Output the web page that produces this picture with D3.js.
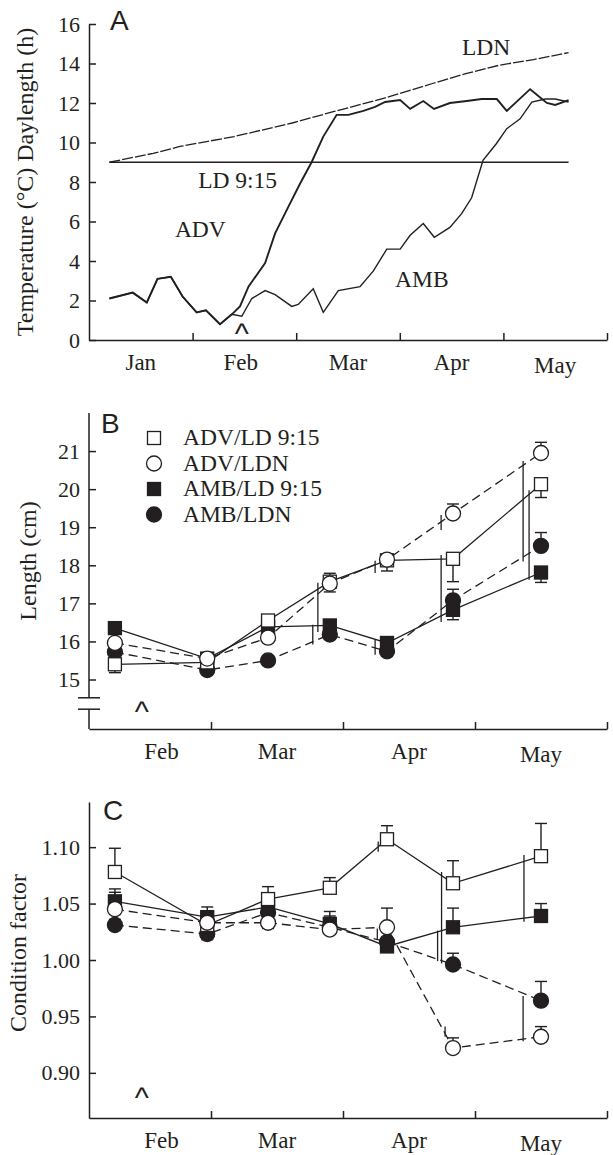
<!DOCTYPE html>
<html>
<head>
<meta charset="utf-8">
<script src="https://cdn.jsdelivr.net/npm/d3@7"></script>
<style>
  body { margin: 0; background: #fff; }
  text { font-family: "Liberation Serif", "Times New Roman", serif; fill: #231f20; }
</style>
</head>
<body>
<script>
// ---- data: panel A (day of year, value)
const advDays = [6.1, 13.1, 17.3, 20.5, 24.5, 28.0, 32.1, 34.6, 38.4, 41.6, 43.8, 46.1, 50.6, 53.3, 56.9, 60.1, 63.6, 67.1, 71.1, 74.6, 79.1, 82.6, 85.6, 90.1, 93.0, 96.8, 99.9, 104.5, 109.4, 113.7, 118.1, 121.0, 128.0, 133.0, 135.5, 139.5];
const advTemp = [2.1, 2.4, 1.9, 3.1, 3.2, 2.2, 1.4, 1.5, 0.8, 1.3, 1.7, 2.7, 3.9, 5.4, 6.75, 7.9, 9.0, 10.3, 11.4, 11.4, 11.6, 11.8, 12.05, 12.15, 11.7, 12.1, 11.7, 12.0, 12.1, 12.2, 12.2, 11.6, 12.7, 12.0, 11.9, 12.15];
const ambDays = [6.1, 13.1, 17.3, 20.5, 24.5, 28.0, 32.1, 34.6, 38.4, 41.6, 44.3, 47.0, 50.6, 53.3, 57.8, 59.6, 64.1, 67.1, 71.6, 78.1, 82.1, 86.1, 90.1, 93.0, 96.8, 100.0, 104.5, 107.9, 110.8, 114.1, 118.0, 121.0, 125.0, 128.5, 132.5, 135.5, 139.5];
const ambTemp = [2.1, 2.4, 1.9, 3.1, 3.2, 2.2, 1.4, 1.5, 0.8, 1.3, 1.2, 2.1, 2.5, 2.3, 1.7, 1.8, 2.6, 1.4, 2.5, 2.7, 3.5, 4.6, 4.6, 5.3, 5.9, 5.2, 5.7, 6.4, 7.2, 9.1, 9.95, 10.7, 11.2, 12.05, 12.2, 12.2, 12.05];
const ldnDays = [6.1, 19.2, 27.2, 42.2, 58.2, 70.1, 85.1, 90.1, 99.7, 109.4, 119.0, 129.0, 139.5];
const ldnHours = [9.0, 9.45, 9.8, 10.3, 11.0, 11.56, 12.23, 12.49, 13.0, 13.5, 13.92, 14.2, 14.55];
const ld915Days = [6.1, 139.5];
const ld915Hours = [9, 9];
const labelTextA = ["LDN", "LD 9:15", "ADV", "AMB"];
const labelDayA = [108.0, 32.5, 25.7, 88.6];
const labelValA = [14.43, 7.71, 5.22, 2.68];

// ---- data: panels B and C (sampling days)
const sampleDays = [38.6, 58.2, 72.4, 86.9, 100, 115, 135.5];
const groups = ["ADV/LD 9:15", "ADV/LDN", "AMB/LD 9:15", "AMB/LDN"];

const lengthAdvLD  = [15.40, 15.45, 16.55, 17.57, 18.13, 18.17, 20.13];
const lengthAdvLDN = [15.96, 15.55, 16.10, 17.52, 18.15, 19.36, 20.95];
const lengthAmbLD  = [16.35, 15.55, 16.38, 16.42, 15.96, 16.83, 17.81];
const lengthAmbLDN = [15.72, 15.25, 15.50, 16.18, 15.74, 17.08, 18.51];
const lengthErrAdvLD  = [-0.22, 0.10, 0.10, 0.22, -0.28, -0.60, -0.35];
const lengthErrAdvLDN = [0.12, 0.10, -0.10, -0.22, 0.08, 0.25, 0.28];
const lengthErrAmbLD  = [0.10, 0.12, 0.10, 0.10, 0.15, -0.26, -0.26];
const lengthErrAmbLDN = [-0.10, -0.10, 0.12, -0.10, -0.10, 0.29, 0.35];

const condAdvLD  = [1.078, 1.031, 1.054, 1.064, 1.107, 1.068, 1.092];
const condAdvLDN = [1.045, 1.033, 1.033, 1.027, 1.029, 0.922, 0.932];
const condAmbLD  = [1.052, 1.038, 1.047, 1.032, 1.012, 1.029, 1.039];
const condAmbLDN = [1.031, 1.023, 1.042, 1.029, 1.016, 0.996, 0.964];
const condErrAdvLD  = [0.021, 0.010, 0.011, 0.009, 0.012, 0.020, 0.029];
const condErrAdvLDN = [0.015, 0.010, -0.005, 0.010, 0.017, 0.009, 0.009];
const condErrAmbLD  = [0.011, 0.009, 0.010, 0.011, 0.008, 0.017, 0.011];
const condErrAmbLDN = [0.005, -0.005, 0.005, 0.010, 0.010, 0.010, 0.017];

// significance bars (day, from, to)
const sigDaysB = [84.1, 82.9, 97.3, 97.3, 112.3, 112.3, 131.3, 132.7];
const sigLoB   = [16.25, 15.92, 17.80, 15.65, 16.51, 18.93, 18.10, 17.62];
const sigHiB   = [17.54, 16.44, 18.12, 16.05, 18.27, 19.32, 20.74, 19.97];
const sigDaysC = [97.8, 98.0, 112.4, 111.5, 113.2, 131.5, 131.3];
const sigLoC   = [1.018, 1.096, 0.997, 0.999, 0.932, 1.034, 0.928];
const sigHiC   = [1.028, 1.105, 1.078, 1.026, 0.941, 1.093, 0.968];

// month ticks and labels
const monthStarts = [0, 31, 59, 90, 120, 151];
const monthNamesA = ["Jan", "Feb", "Mar", "Apr", "May"];
const monthLabelDaysA = [15.5, 44, 74.5, 105, 135.5];
const monthNamesBC = ["Feb", "Mar", "Apr", "May"];
const monthLabelDaysBC = [48.5, 74.5, 105, 135.5];
const caretDay = 44.3;

// ---- layout
const width = 613, height = 1155;
const left = 89, right = 607;
const ink = "#231f20";

const svg = d3.select("body").append("svg")
    .attr("width", width).attr("height", height);

const xA = d3.scaleLinear()
    .domain(monthStarts)
    .range(monthStarts.map((d, i) => left + i * (right - left) / 5));
const xBC = d3.scaleLinear()
    .domain([33.1, 59, 90, 120, 151])
    .range([89, 211, 343, 475, 607]);

const yA = d3.scaleLinear().domain([0, 16]).range([340, 24]);
const yB = d3.scaleLinear().domain([13.7, 22]).range([729, 413]);
const yC = d3.scaleLinear().domain([0.86, 1.14]).range([1118, 802]);

function styleAxis(g) {
  g.selectAll("path, line").attr("stroke", ink).attr("stroke-width", 1.5);
  g.selectAll("text").attr("font-size", 22).attr("fill", ink)
    .style("font-family", "'Liberation Serif', serif");
}

function xAxis(x, y0, ticks, names, labelDays) {
  const g = svg.append("g")
      .attr("transform", `translate(0,${y0})`)
      .call(d3.axisBottom(x).tickValues(ticks).tickSize(-7).tickSizeOuter(0).tickFormat(""))
      .call(styleAxis);
  g.selectAll(".label").data(names).enter().append("text")
      .attr("x", (d, i) => x(labelDays[i]))
      .attr("y", d => d === "May" ? 33 : 30)
      .attr("text-anchor", "middle")
      .attr("font-size", 23)
      .text(d => d);
}

function panelLetter(t, x, y) {
  svg.append("text").attr("x", x).attr("y", y)
      .style("font-family", "'Liberation Sans', Arial, sans-serif")
      .attr("font-size", 28).text(t);
}

function yTitle(t, x, y) {
  svg.append("text")
      .attr("transform", `translate(${x},${y}) rotate(-90)`)
      .attr("text-anchor", "middle")
      .attr("font-size", 24).text(t);
}

// thin "^" marker; y is the bottom of the glyph
function caret(x, y) {
  svg.append("text").attr("x", x).attr("y", y + 10)
      .attr("text-anchor", "middle")
      .style("font-family", "'Liberation Sans', Arial, sans-serif")
      .attr("font-size", 30).text("^");
}

// ================= Panel A
svg.append("g").attr("transform", `translate(${left},0)`)
    .call(d3.axisLeft(yA).tickValues(d3.range(0, 17, 2)).tickSize(-7).tickSizeOuter(0).tickPadding(9))
    .call(styleAxis);
xAxis(xA, 340, monthStarts.slice(1), monthNamesA, monthLabelDaysA);

const lineA = d3.line().x(d => xA(d[0])).y(d => yA(d[1]));
const zip = (a, b) => a.map((d, i) => [d, b[i]]);

svg.append("path").datum(zip(ld915Days, ld915Hours)).attr("d", lineA)
    .attr("fill", "none").attr("stroke", ink).attr("stroke-width", 1.5);
svg.append("path").datum(zip(ldnDays, ldnHours)).attr("d", lineA)
    .attr("fill", "none").attr("stroke", ink).attr("stroke-width", 1.3)
    .attr("stroke-dasharray", "11,2");
svg.append("path").datum(zip(ambDays, ambTemp)).attr("d", lineA)
    .attr("fill", "none").attr("stroke", ink).attr("stroke-width", 1.4);
svg.append("path").datum(zip(advDays, advTemp)).attr("d", lineA)
    .attr("fill", "none").attr("stroke", ink).attr("stroke-width", 1.9);

labelTextA.forEach((t, i) => {
  svg.append("text").attr("x", xA(labelDayA[i])).attr("y", yA(labelValA[i]))
      .attr("font-size", 23.5).text(t);
});
panelLetter("A", 110, 30);
yTitle("Temperature (°C)  Daylength (h)", 33, 182);
caret(xA(caretDay), 334);

// ================= Panels B and C
function seriesPanel(y, vals, errs, sigDays, sigLo, sigHi, capW) {
  const line = d3.line().x((d, i) => xBC(sampleDays[i])).y(d => y(d));
  const dashed = [false, true, false, true];
  // connecting lines
  vals.forEach((v, k) => {
    svg.append("path").datum(v).attr("d", line)
        .attr("fill", "none").attr("stroke", ink).attr("stroke-width", 1.3)
        .attr("stroke-dasharray", dashed[k] ? "9,5" : null);
  });
  // significance bars
  svg.append("g").selectAll("line").data(sigDays).enter().append("line")
      .attr("x1", d => xBC(d)).attr("x2", d => xBC(d))
      .attr("y1", (d, i) => y(sigLo[i])).attr("y2", (d, i) => y(sigHi[i]))
      .attr("stroke", ink).attr("stroke-width", 1.3);
  // error bars
  vals.forEach((v, k) => {
    const g = svg.append("g").attr("stroke", ink).attr("stroke-width", 1.4);
    v.forEach((d, i) => {
      const cx = xBC(sampleDays[i]);
      const e = errs[k][i];
      g.append("line").attr("x1", cx).attr("x2", cx).attr("y1", y(d)).attr("y2", y(d + e));
      g.append("line").attr("x1", cx - capW / 2).attr("x2", cx + capW / 2)
          .attr("y1", y(d + e)).attr("y2", y(d + e));
    });
  });
  // markers: filled first, open on top
  const order = [2, 3, 0, 1];
  order.forEach(k => {
    const g = svg.append("g");
    vals[k].forEach((d, i) => drawMarker(g, k, xBC(sampleDays[i]), y(d)));
  });
}

function drawMarker(g, k, cx, cy) {
  const filled = k >= 2;
  const square = k % 2 === 0;
  if (square) {
    const s = 13;
    g.append("rect").attr("x", cx - s / 2).attr("y", cy - s / 2)
        .attr("width", s).attr("height", s)
        .attr("fill", filled ? ink : "#fff").attr("stroke", ink).attr("stroke-width", 1.3);
  } else {
    g.append("circle").attr("cx", cx).attr("cy", cy).attr("r", 7.5)
        .attr("fill", filled ? ink : "#fff").attr("stroke", ink).attr("stroke-width", 1.3);
  }
}

// ---- Panel B axes
const gyB = svg.append("g").attr("transform", `translate(${left},0)`)
    .call(d3.axisLeft(yB).tickValues(d3.range(15, 22)).tickSize(-7).tickSizeOuter(0).tickPadding(9))
    .call(styleAxis);
gyB.select(".domain").remove();
const breakB = [14.52, 14.22];
gyB.append("line").attr("x1", 0).attr("x2", 0).attr("y1", yB(22)).attr("y2", yB(breakB[0]))
    .attr("stroke", ink).attr("stroke-width", 1.5);
gyB.append("line").attr("x1", 0).attr("x2", 0).attr("y1", yB(breakB[1])).attr("y2", yB(13.7))
    .attr("stroke", ink).attr("stroke-width", 1.5);
breakB.forEach(v => gyB.append("line").attr("x1", -11).attr("x2", 11)
    .attr("y1", yB(v)).attr("y2", yB(v)).attr("stroke", ink).attr("stroke-width", 1.5));
xAxis(xBC, 729, monthStarts.slice(2), monthNamesBC, monthLabelDaysBC);

seriesPanel(yB,
  [lengthAdvLD, lengthAdvLDN, lengthAmbLD, lengthAmbLDN],
  [lengthErrAdvLD, lengthErrAdvLDN, lengthErrAmbLD, lengthErrAmbLDN],
  sigDaysB, sigLoB, sigHiB, 12);

panelLetter("B", 101, 433);
yTitle("Length (cm)", 36, 561);
caret(xBC(caretDay), 712);

// legend
const legend = svg.append("g");
groups.forEach((name, k) => {
  const cy = 438 + k * 25.5;
  drawMarker(legend, k, 154, cy);
  legend.append("text").attr("x", 183).attr("y", cy + 7).attr("font-size", 23.5).text(name);
});

// ---- Panel C axes
svg.append("g").attr("transform", `translate(${left},0)`)
    .call(d3.axisLeft(yC).tickValues([0.90, 0.95, 1.00, 1.05, 1.10]).tickFormat(d3.format(".2f"))
      .tickSize(-7).tickSizeOuter(0).tickPadding(9))
    .call(styleAxis);
xAxis(xBC, 1118, monthStarts.slice(2), monthNamesBC, monthLabelDaysBC);

seriesPanel(yC,
  [condAdvLD, condAdvLDN, condAmbLD, condAmbLDN],
  [condErrAdvLD, condErrAdvLDN, condErrAmbLD, condErrAmbLDN],
  sigDaysC, sigLoC, sigHiC, 12);

panelLetter("C", 103, 820);
yTitle("Condition factor", 26, 953);
caret(xBC(caretDay), 1098);
</script>
</body>
</html>
